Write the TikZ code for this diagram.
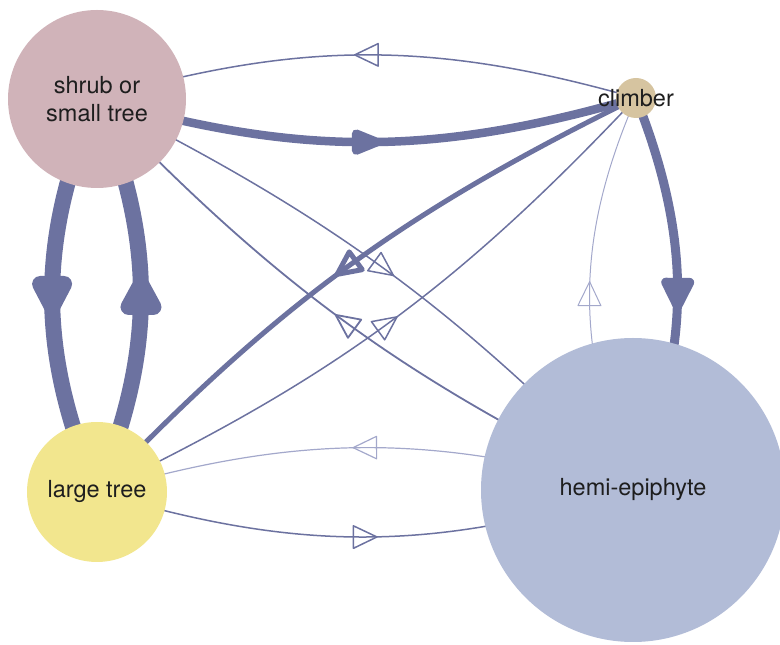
\documentclass[tikz,border=0pt]{standalone}
\usepackage{fontspec}
\setmainfont{TeX Gyre Heros}
\usetikzlibrary{decorations.markings}
\definecolor{ecol}{HTML}{6C72A0}
\definecolor{ecolL}{HTML}{A3A8CB}
\definecolor{shrubc}{HTML}{D0B3B9}
\definecolor{climbc}{HTML}{D6C4A0}
\definecolor{largec}{HTML}{F2E68E}
\definecolor{hemic}{HTML}{B2BCD7}
\definecolor{txtc}{HTML}{1E1E1E}
\pgfdeclarelayer{bg}
\pgfsetlayers{bg,main}
\tikzset{
  lbl/.style={text=txtc, align=center, inner sep=0pt,
    font=\fontsize{23.5}{28}\selectfont},
  nd/.style={circle, inner sep=0pt, lbl},
  edge/.style n args={4}{draw=#4, line width=#1, postaction={decorate},
    decoration={markings, mark=at position 0.5 with {
      \draw[draw=#4, line width=#1, line join=round, fill=none]
        (-#2pt,-#3pt) -- (#2pt,0pt) -- (-#2pt,#3pt) -- cycle;}}}
}
\begin{document}
\begin{tikzpicture}[x=1pt,y=1pt]
\useasboundingbox (0,0) rectangle (780,645);
\clip (0,0) rectangle (780,645);
\node[nd, fill=shrubc, minimum size=178pt] (S) at (97,546) {shrub or\\small tree};
\node[circle, inner sep=0pt, fill=climbc, minimum size=40pt] (C) at (636,547) {};
\node[lbl] (Ct) at (C.center) {climber};
\node[nd, fill=largec, minimum size=140pt] (L) at (97,153) {large tree};
\node[nd, fill=hemic, minimum size=304pt] (H) at (633,155) {hemi-epiphyte};
\begin{pgfonlayer}{bg}
\draw[edge={1.5}{11.75}{11.25}{ecol}] (C.center) to[bend right=16] (S.center);
\draw[edge={8.5}{10.5}{8.5}{ecol}] (S.center) to[bend right=16] (C.center);
\draw[edge={9}{12}{12}{ecol}] (C.center) to[bend left=22] (H.center);
\draw[edge={1}{12}{11.5}{ecolL}] (H.center) to[bend left=23] (C.center);
\draw[edge={16}{11.5}{12}{ecol}] (S.center) to[bend right=23] (L.center);
\draw[edge={16}{11.5}{12.5}{ecol}] (L.center) to[bend right=22.5] (S.center);
\draw[edge={5}{11.5}{11}{ecol}] (C.center) to[bend right=10] (L.center);
\draw[edge={1.5}{11.75}{11.25}{ecol}] (L.center) to[bend right=10.5] (C.center);
\draw[edge={1.5}{11.75}{11.25}{ecol}] (S.center) to[bend left=9.5] (H.center);
\draw[edge={1.8}{11.75}{11.25}{ecol}] (H.center) to[bend left=10] (S.center);
\draw[edge={1.2}{11.75}{11.25}{ecolL}] (H.center) to[bend right=16] (L.center);
\draw[edge={1.5}{11.75}{11.25}{ecol}] (L.center) to[bend right=17] (H.center);
\end{pgfonlayer}
\end{tikzpicture}
\end{document}
